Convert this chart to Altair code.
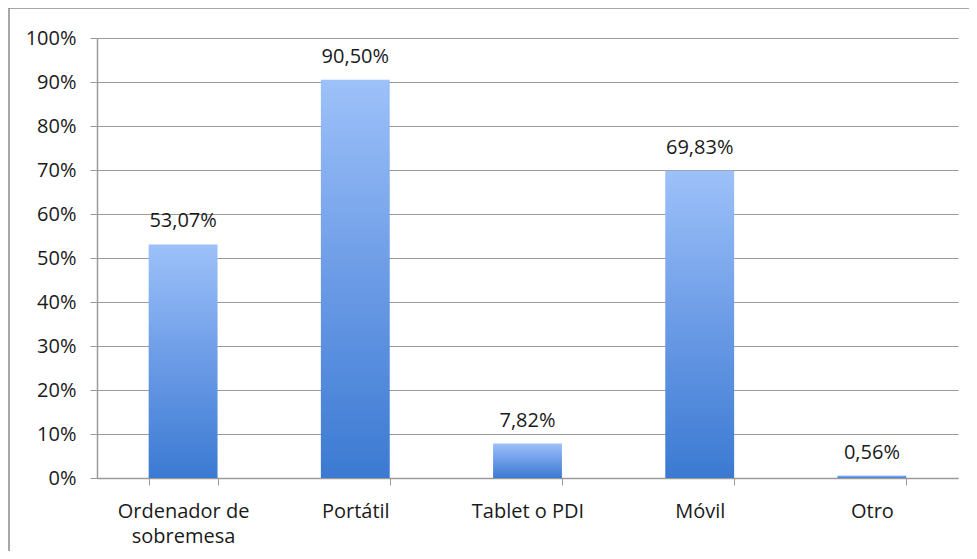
import altair as alt
import pandas as pd

categories = ["Ordenador de|sobremesa", "Portátil", "Tablet o PDI", "Móvil", "Otro"]
values = [0.5307, 0.9050, 0.0782, 0.6983, 0.0056]
labels = ["53,07%", "90,50%", "7,82%", "69,83%", "0,56%"]
y_ticks = [0, 0.1, 0.2, 0.3, 0.4, 0.5, 0.6, 0.7, 0.8, 0.9, 1.0]

df = pd.DataFrame({"cat": categories, "val": values, "lab": labels})

FONT = "Open Sans"
GRAY = "#9a9a9a"

gradient = alt.Gradient(
    gradient="linear",
    stops=[
        alt.GradientStop(color="#9dc1f9", offset=0),
        alt.GradientStop(color="#6b9be6", offset=0.5),
        alt.GradientStop(color="#3b7ad2", offset=1),
    ],
    x1=0, x2=0, y1=0, y2=1,
)

x_enc = alt.X(
    "cat:N",
    sort=categories,
    scale=alt.Scale(paddingInner=0.6, paddingOuter=0.3),
    axis=alt.Axis(
        title=None,
        labelAngle=0,
        labelExpr="split(datum.label, '|')",
        labelFont=FONT,
        labelFontSize=20,
        labelColor="#1a1a1a",
        labelPadding=16,
        labelLineHeight=25,
        labelBaseline="top",
        tickBand="extent",
        tickSize=7,
        tickColor=GRAY,
        domainColor=GRAY,
        domainWidth=1.5,
        grid=False,
    ),
)

y_enc = alt.Y(
    "val:Q",
    scale=alt.Scale(domain=[0, 1], nice=False),
    axis=alt.Axis(
        title=None,
        values=y_ticks,
        format=".0%",
        labelFont=FONT,
        labelFontSize=20,
        labelColor="#1a1a1a",
        labelPadding=14,
        tickSize=7,
        tickColor=GRAY,
        domainColor=GRAY,
        domainWidth=1.5,
        grid=True,
        gridColor=GRAY,
        gridWidth=1.2,
    ),
)

bars = alt.Chart(df).mark_bar(color=gradient).encode(x=x_enc, y=y_enc)

text = alt.Chart(df).mark_text(
    font=FONT, fontSize=20, color="#1a1a1a", baseline="alphabetic", dy=-17
).encode(x=alt.X("cat:N", sort=categories), y="val:Q", text="lab:N")

frame = alt.Chart(alt.Data(values=[{"a": 1}])).mark_rect(
    fill=None, stroke="#8a8a8a", strokeWidth=1.5
).encode(
    x=alt.value(-88), x2=alt.value(950), y=alt.value(-30), y2=alt.value(620)
)

chart = alt.layer(bars, text, frame).properties(
    width=861,
    height=440,
    autosize=alt.AutoSizeParams(type="none"),
    padding={"left": 89, "top": 30, "right": 11, "bottom": 73},
).configure_view(stroke=None)

chart.save("out.html", embed_options={"renderer": "svg", "actions": False})
